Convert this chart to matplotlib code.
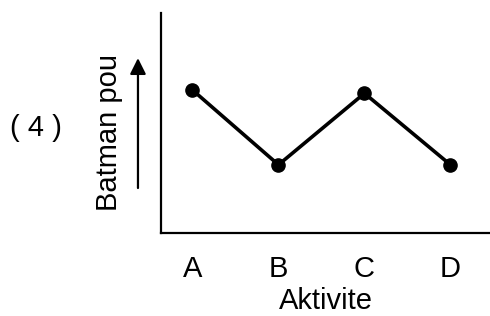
import matplotlib.pyplot as plt

plt.rcParams["font.family"] = ["Liberation Sans", "DejaVu Sans"]

# Data
activities = ["A", "B", "C", "D"]
values = [6.5, 3.1, 6.35, 3.1]
panel_label = "( 4 )"
x_title = "Aktivite"
y_title = "Batman pou"


def main():
    fig = plt.figure(figsize=(4.9, 3.16), dpi=100)
    ax = fig.add_axes([161 / 490, 83 / 316, 329 / 490, 220 / 316])

    x = list(range(len(activities)))
    ax.plot(x, values, color="black", lw=2.6, marker="o", markersize=9.5)

    ax.set_xlim(-0.366, 3.46)
    ax.set_ylim(0, 10)

    # only left and bottom axis lines
    for side in ["top", "right"]:
        ax.spines[side].set_visible(False)
    for side in ["left", "bottom"]:
        ax.spines[side].set_linewidth(1.6)

    ax.set_xticks(x)
    ax.set_xticklabels(activities, fontsize=21)
    ax.tick_params(axis="x", length=0, pad=16)
    ax.set_yticks([])

    ax.set_xlabel(x_title, fontsize=21, labelpad=3)
    ax.set_ylabel(y_title, fontsize=21)
    ax.yaxis.set_label_coords(-0.1155, 0.459)

    # upward arrow next to the y label
    ax.annotate(
        "",
        xy=(-0.070, 0.795),
        xytext=(-0.070, 0.2045),
        xycoords="axes fraction",
        arrowprops=dict(arrowstyle="-|>", lw=1.6, color="black",
                        mutation_scale=24, shrinkA=0, shrinkB=0),
        annotation_clip=False,
    )

    fig.text(0.0735, 0.595, panel_label, fontsize=21, ha="center", va="center")

    fig.savefig("out.png", dpi=100)


if __name__ == "__main__":
    main()
